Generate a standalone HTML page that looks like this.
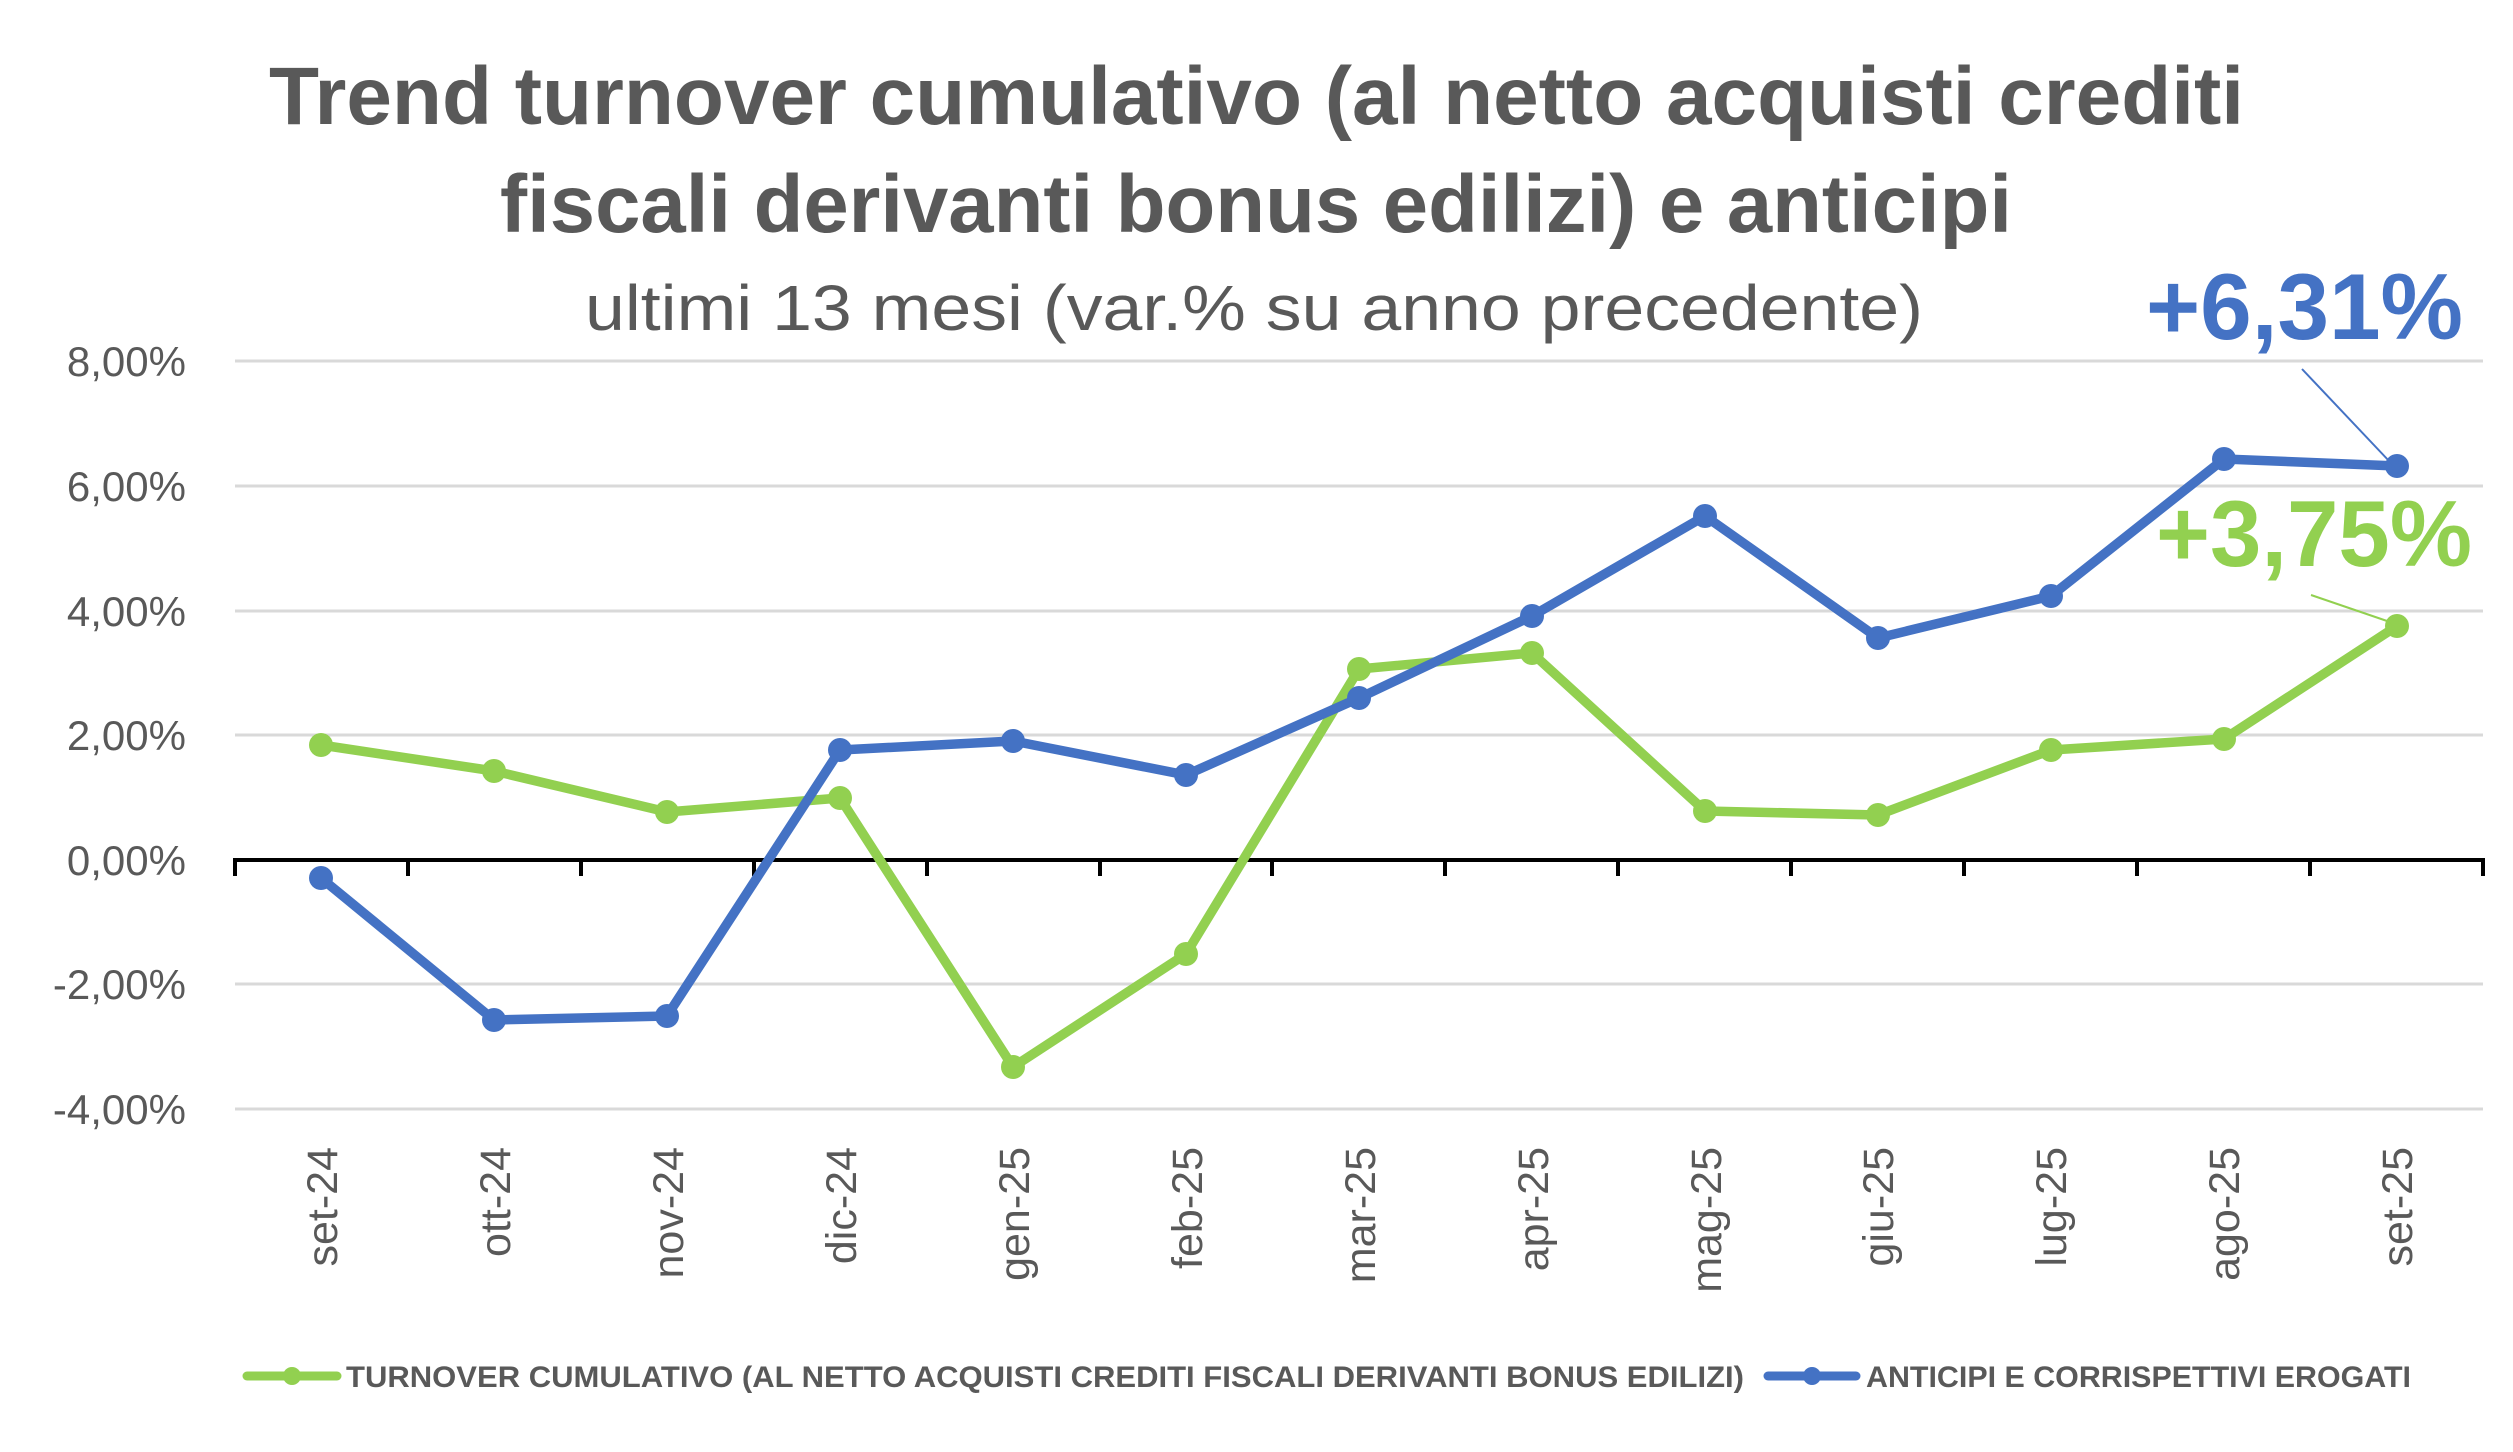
<!DOCTYPE html>
<html><head><meta charset="utf-8"><style>html,body{margin:0;padding:0;background:#fff}svg{display:block}</style></head>
<body>
<svg width="2513" height="1452" viewBox="0 0 2513 1452" xmlns="http://www.w3.org/2000/svg" font-family="Liberation Sans, DejaVu Sans, sans-serif">
<rect width="2513" height="1452" fill="#fff"/>
<text x="269" y="124" font-size="82" font-weight="bold" fill="#595959" textLength="1975" lengthAdjust="spacingAndGlyphs">Trend turnover cumulativo (al netto acquisti crediti</text>
<text x="500" y="232" font-size="82" font-weight="bold" fill="#595959" textLength="1512" lengthAdjust="spacingAndGlyphs">fiscali derivanti bonus edilizi) e anticipi</text>
<text x="585" y="330" font-size="64" fill="#595959" textLength="1338" lengthAdjust="spacingAndGlyphs">ultimi 13 mesi (var.% su anno precedente)</text>
<g stroke="#d9d9d9" stroke-width="3">
<line x1="235" y1="361" x2="2483" y2="361"/><line x1="235" y1="486" x2="2483" y2="486"/><line x1="235" y1="611" x2="2483" y2="611"/><line x1="235" y1="735" x2="2483" y2="735"/><line x1="235" y1="984" x2="2483" y2="984"/><line x1="235" y1="1109" x2="2483" y2="1109"/>
</g>
<g font-size="42" fill="#595959" text-anchor="end">
<text x="186" y="376">8,00%</text><text x="186" y="501">6,00%</text><text x="186" y="626">4,00%</text><text x="186" y="750">2,00%</text><text x="186" y="875">0,00%</text><text x="186" y="999">-2,00%</text><text x="186" y="1124">-4,00%</text>
</g>
<g stroke="#000" stroke-width="4">
<line x1="233" y1="860" x2="2485" y2="860"/>
<line x1="235" y1="858" x2="235" y2="876"/><line x1="408" y1="858" x2="408" y2="876"/><line x1="581" y1="858" x2="581" y2="876"/><line x1="754" y1="858" x2="754" y2="876"/><line x1="927" y1="858" x2="927" y2="876"/><line x1="1100" y1="858" x2="1100" y2="876"/><line x1="1272" y1="858" x2="1272" y2="876"/><line x1="1445" y1="858" x2="1445" y2="876"/><line x1="1618" y1="858" x2="1618" y2="876"/><line x1="1791" y1="858" x2="1791" y2="876"/><line x1="1964" y1="858" x2="1964" y2="876"/><line x1="2137" y1="858" x2="2137" y2="876"/><line x1="2310" y1="858" x2="2310" y2="876"/><line x1="2483" y1="858" x2="2483" y2="876"/>
</g>
<g font-size="43" fill="#595959" text-anchor="end">
<text transform="translate(337,1147) rotate(-90)">set-24</text>
<text transform="translate(510,1147) rotate(-90)">ott-24</text>
<text transform="translate(683,1147) rotate(-90)">nov-24</text>
<text transform="translate(856,1147) rotate(-90)">dic-24</text>
<text transform="translate(1029,1147) rotate(-90)">gen-25</text>
<text transform="translate(1202,1147) rotate(-90)">feb-25</text>
<text transform="translate(1375,1147) rotate(-90)">mar-25</text>
<text transform="translate(1548,1147) rotate(-90)">apr-25</text>
<text transform="translate(1721,1147) rotate(-90)">mag-25</text>
<text transform="translate(1893,1147) rotate(-90)">giu-25</text>
<text transform="translate(2066,1147) rotate(-90)">lug-25</text>
<text transform="translate(2239,1147) rotate(-90)">ago-25</text>
<text transform="translate(2412,1147) rotate(-90)">set-25</text>
</g>
<polyline fill="none" stroke="#92d050" stroke-width="9.5" stroke-linejoin="round" points="321,745 494,771 667,812 840,798 1013,1067 1186,954 1359,669 1532,653 1705,811 1878,815 2051,750 2224,739 2397,626"/>
<g fill="#92d050">
<circle cx="321" cy="745" r="12"/><circle cx="494" cy="771" r="12"/><circle cx="667" cy="812" r="12"/><circle cx="840" cy="798" r="12"/><circle cx="1013" cy="1067" r="12"/><circle cx="1186" cy="954" r="12"/><circle cx="1359" cy="669" r="12"/><circle cx="1532" cy="653" r="12"/><circle cx="1705" cy="811" r="12"/><circle cx="1878" cy="815" r="12"/><circle cx="2051" cy="750" r="12"/><circle cx="2224" cy="739" r="12"/><circle cx="2397" cy="626" r="12"/>
</g>
<polyline fill="none" stroke="#4472c4" stroke-width="9.5" stroke-linejoin="round" points="321,878 494,1020 667,1016 840,750 1013,741 1186,775 1359,698 1532,616 1705,516 1878,638 2051,596 2224,459 2397,466"/>
<g fill="#4472c4">
<circle cx="321" cy="878" r="12"/><circle cx="494" cy="1020" r="12"/><circle cx="667" cy="1016" r="12"/><circle cx="840" cy="750" r="12"/><circle cx="1013" cy="741" r="12"/><circle cx="1186" cy="775" r="12"/><circle cx="1359" cy="698" r="12"/><circle cx="1532" cy="616" r="12"/><circle cx="1705" cy="516" r="12"/><circle cx="1878" cy="638" r="12"/><circle cx="2051" cy="596" r="12"/><circle cx="2224" cy="459" r="12"/><circle cx="2397" cy="466" r="12"/>
</g>
<line x1="2302" y1="369" x2="2390" y2="462" stroke="#4472c4" stroke-width="2"/>
<line x1="2311" y1="595" x2="2390" y2="622" stroke="#92d050" stroke-width="2"/>
<text x="2146" y="339" font-size="94" font-weight="bold" fill="#4472c4" textLength="317" lengthAdjust="spacingAndGlyphs">+6,31%</text>
<text x="2156" y="566" font-size="94" font-weight="bold" fill="#92d050" textLength="316" lengthAdjust="spacingAndGlyphs">+3,75%</text>
<line x1="247" y1="1376" x2="337" y2="1376" stroke="#92d050" stroke-width="9" stroke-linecap="round"/>
<circle cx="292" cy="1376" r="9" fill="#92d050"/>
<text x="346" y="1387" font-size="30" font-weight="bold" fill="#595959" textLength="1398" lengthAdjust="spacingAndGlyphs">TURNOVER CUMULATIVO (AL NETTO ACQUISTI CREDITI FISCALI DERIVANTI BONUS EDILIZI)</text>
<line x1="1768" y1="1376" x2="1856" y2="1376" stroke="#4472c4" stroke-width="9" stroke-linecap="round"/>
<circle cx="1812" cy="1376" r="9" fill="#4472c4"/>
<text x="1866" y="1387" font-size="30" font-weight="bold" fill="#595959" textLength="545" lengthAdjust="spacingAndGlyphs">ANTICIPI E CORRISPETTIVI EROGATI</text>
</svg>
</body></html>
